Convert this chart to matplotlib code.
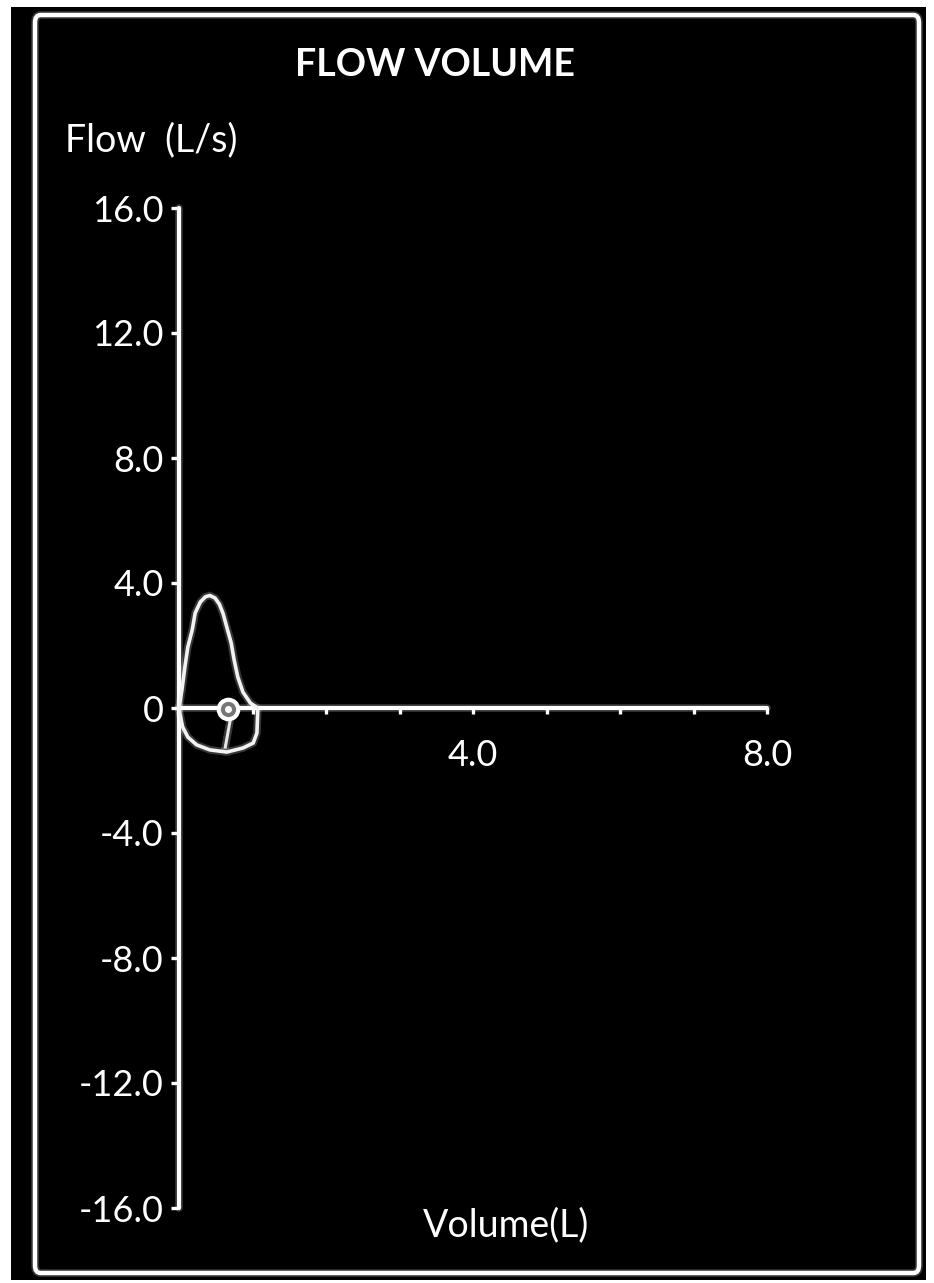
import matplotlib
matplotlib.use("Agg")
import matplotlib.pyplot as plt
import matplotlib.patheffects as pe
from matplotlib.patches import Rectangle, FancyBboxPatch

# flow-volume loop
volume = [0.00, 0.04, 0.08, 0.12, 0.18, 0.22, 0.29, 0.36, 0.42, 0.49, 0.55, 0.60, 0.65, 0.71,
          0.75, 0.80, 0.87, 0.97, 1.07, 1.07, 1.06, 1.01, 0.87, 0.65, 0.42, 0.24,
          0.12, 0.05, 0.01, 0.00]
flow = [0.00, 0.58, 1.31, 1.95, 2.50, 3.04, 3.39, 3.56, 3.60, 3.52, 3.32, 3.02, 2.59, 2.08,
        1.54, 0.99, 0.51, 0.16, 0.00, -0.19, -0.80, -1.12, -1.28, -1.41, -1.34, -1.18,
        -0.93, -0.61, -0.16, 0.00]
# small circle and stroke inside the lower loop
circle_vol, circle_flow = 0.67, -0.03
stroke_vol = [0.70, 0.63]
stroke_flow = [-0.35, -1.25]

y_ticks = [16, 12, 8, 4, 0, -4, -8, -12, -16]
y_labels = ["16.0", "12.0", "8.0", "4.0", "0", "-4.0", "-8.0", "-12.0", "-16.0"]
x_ticks = [1, 2, 3, 4, 5, 6, 7, 8]
x_labels = ["", "", "", "4.0", "", "", "", "8.0"]

W, H = 934, 1283
fig = plt.figure(figsize=(W / 100, H / 100), dpi=100, facecolor="white")

def fx(px):
    return px / W

def fy(py):
    return 1 - py / H

glow = [pe.withStroke(linewidth=5.5, foreground=(1, 1, 1, 0.22))]
font = ["Lato", "DejaVu Sans"]
fs = 26

# black panel with white frame
fig.patches.append(Rectangle((fx(11), fy(1280)), fx(926) - fx(11), fy(7) - fy(1280),
                             transform=fig.transFigure, facecolor="black",
                             edgecolor="none", zorder=-10))
fig.patches.append(FancyBboxPatch((fx(35), fy(1273)), fx(919) - fx(35), fy(15) - fy(1273),
                                  boxstyle="round,pad=0,rounding_size=0.006",
                                  transform=fig.transFigure, facecolor="none",
                                  edgecolor="white", linewidth=3.2, zorder=-5,
                                  path_effects=glow))

ax = fig.add_axes([fx(179), fy(1208), fx(767) - fx(179), fy(208) - fy(1208)])
ax.set_facecolor("none")
ax.set_zorder(2)
ax.set_xlim(0, 8)
ax.set_ylim(-16, 16)

for s in ["top", "right"]:
    ax.spines[s].set_visible(False)
ax.spines["left"].set_position(("data", 0))
ax.spines["bottom"].set_position(("data", 0))
for s in ["left", "bottom"]:
    ax.spines[s].set_color("white")
    ax.spines[s].set_linewidth(3.0)
    ax.spines[s].set_path_effects(glow)
    ax.spines[s].set_capstyle("round")

ax.set_yticks(y_ticks)
ax.set_yticklabels(y_labels)
ax.set_xticks(x_ticks)
ax.set_xticklabels(x_labels)
ax.tick_params(axis="y", direction="out", length=6, width=2.4, color="white",
               labelcolor="white", labelsize=fs, pad=5)
ax.tick_params(axis="x", direction="out", length=4, width=2.4, color="white",
               labelcolor="white", labelsize=fs, pad=18)
for lab in ax.get_xticklabels() + ax.get_yticklabels():
    lab.set_family(font)

ax.plot(volume, flow, color="#f2f2f2", linewidth=2.6,
        path_effects=glow, clip_on=False, zorder=3)
ax.plot(stroke_vol, stroke_flow, color="#e8e8e8", linewidth=2.2,
        path_effects=glow, clip_on=False, zorder=3)
ax.plot([circle_vol], [circle_flow], marker="o", markersize=14, markerfacecolor="#777777",
        markeredgecolor="white", markeredgewidth=3.0, clip_on=False, zorder=4)
ax.plot([circle_vol], [circle_flow], marker="o", markersize=4, color="white",
        clip_on=False, zorder=4)

fig.text(fx(435), fy(65), "FLOW VOLUME", color="white", fontsize=fs + 1, fontweight="bold",
         ha="center", va="center", family=font)
fig.text(fx(65), fy(140), "Flow  (L/s)", color="white", fontsize=fs + 1,
         ha="left", va="center", family=font)
fig.text(fx(506), fy(1225), "Volume(L)", color="white", fontsize=fs + 1,
         ha="center", va="center", family=font)

fig.savefig("out.png", dpi=100, facecolor="white")
